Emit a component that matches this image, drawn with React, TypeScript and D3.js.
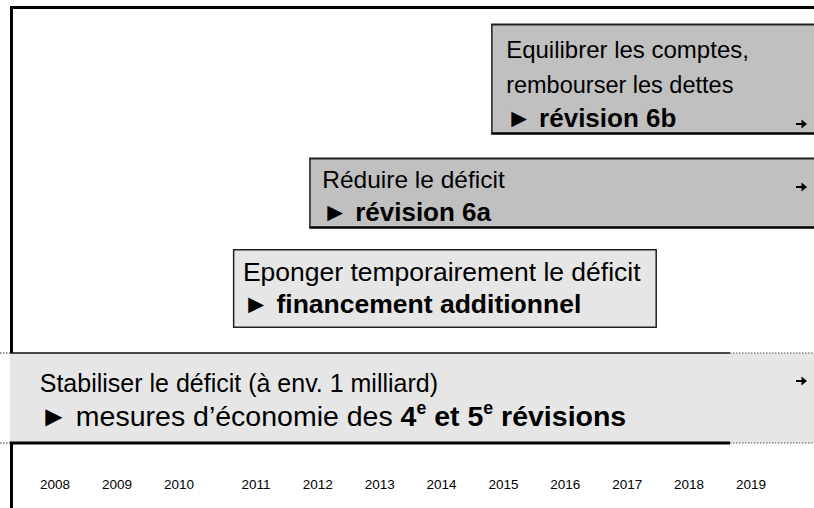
import React from "react";
import * as d3 from "d3";

// ---------- data ----------
const years = [2008, 2009, 2010, 2011, 2012, 2013, 2014, 2015, 2016, 2017, 2018, 2019];
const yearAnchors = [2008, 2010, 2011, 2019];

type Seg = { t: string; b?: boolean; sup?: boolean };

const phaseLines: Seg[][][] = [
  [
    [{ t: "Equilibrer les comptes," }],
    [{ t: "rembourser les dettes" }],
    [{ t: "► " }, { t: "révision 6b", b: true }],
  ],
  [
    [{ t: "Réduire le déficit" }],
    [{ t: "► " }, { t: "révision 6a", b: true }],
  ],
  [
    [{ t: "Eponger temporairement le déficit" }],
    [{ t: "► " }, { t: "financement additionnel", b: true }],
  ],
  [
    [{ t: "Stabiliser le déficit (à env. 1 milliard)" }],
    [
      { t: "► mesures d’économie des " },
      { t: "4", b: true },
      { t: "e", b: true, sup: true },
      { t: " et 5", b: true },
      { t: "e", b: true, sup: true },
      { t: " révisions", b: true },
    ],
  ],
];
const phaseStart = [2014.8, 2011.86, 2010.7, 2007.27];
const phaseEnd = [2021, 2021, 2017.48, 2021];
const phaseSolidEnd = [2021, 2021, 2017.48, 2018.66];
const phaseOngoing = [true, true, false, true];

// ---------- layout ----------
const W = 814;
const H = 508;
const yearAnchorX = [55, 179, 256, 751];
const rowTop = [24, 158, 249, 353];
const rowBottom = [134, 228, 328, 443];
const lineBaselines = [
  [58, 93, 127],
  [188, 221],
  [281, 313],
  [392, 426],
];
const lineFont = [
  [24, 23.5, 26],
  [24.5, 26],
  [26.5, 26.5],
  [25, 28.5],
];
const arrowY = [124, 187, 0, 381];
const textInset = [15, 13, 10, 30];
const fills = ["#c0c0c0", "#c0c0c0", "#e6e6e6", "#e6e6e6"];
const FONT = "'Liberation Sans', Arial, Helvetica, sans-serif";

export default function App() {
  const x = d3.scaleLinear().domain(yearAnchors).range(yearAnchorX);
  const arrowPath = "M-5,-1.1 H0.5 V-4.6 L6,0 L0.5,4.6 V1.1 H-5 Z";

  return (
    <svg
      width={W}
      height={H}
      style={{ position: "absolute", left: 0, top: 0, background: "#fff" }}
      fontFamily={FONT}
    >
      {/* frame */}
      <path d={`M11.5,${H + 5} V7.5 H${W + 5}`} fill="none" stroke="#000" strokeWidth={3} />

      {phaseLines.map((lines, i) => {
        const x0 = x(phaseStart[i]);
        const x1 = Math.min(x(phaseEnd[i]), W + 10);
        const xs = Math.min(x(phaseSolidEnd[i]), W + 10);
        const y0 = rowTop[i];
        const y1 = rowBottom[i];
        const isBand = i === 3;
        return (
          <g key={i}>
            <rect x={x0} y={y0} width={x1 - x0} height={y1 - y0} fill={fills[i]} />
            {isBand ? (
              <g>
                <line x1={0} x2={x0} y1={y0} y2={y0} stroke="#777" strokeWidth={1.5} strokeDasharray="1.5,1.5" />
                <line x1={x0} x2={xs} y1={y0} y2={y0} stroke="#111" strokeWidth={1.6} />
                <line x1={xs} x2={W} y1={y0} y2={y0} stroke="#888" strokeWidth={1.5} strokeDasharray="1.5,1.5" />
                <line x1={0} x2={x0} y1={y1} y2={y1} stroke="#777" strokeWidth={1.5} strokeDasharray="1.5,1.5" />
                <line x1={x0} x2={xs} y1={y1} y2={y1} stroke="#000" strokeWidth={3} />
                <line x1={xs} x2={W} y1={y1} y2={y1} stroke="#888" strokeWidth={1.5} strokeDasharray="1.5,1.5" />
              </g>
            ) : phaseOngoing[i] ? (
              <g>
                <line x1={x0} x2={x1} y1={y0 + 0.5} y2={y0 + 0.5} stroke="#222" strokeWidth={2} />
                <line x1={x0} x2={x1} y1={y1 - 0.5} y2={y1 - 0.5} stroke="#000" strokeWidth={2.5} />
                <line x1={x0 + 0.75} x2={x0 + 0.75} y1={y0} y2={y1} stroke="#222" strokeWidth={1.5} />
              </g>
            ) : (
              <rect x={x0 + 0.75} y={y0 + 0.75} width={x1 - x0 - 1.5} height={y1 - y0 - 1.5} fill="none" stroke="#222" strokeWidth={1.5} />
            )}
            {lines.map((segs, li) => {
              const fs = lineFont[i][li];
              return (
                <text key={li} x={x0 + textInset[i]} y={lineBaselines[i][li]} fontSize={fs} fill="#000">
                  {segs.map((s, si) => (
                    <tspan
                      key={si}
                      fontWeight={s.b ? "bold" : "normal"}
                      fontSize={s.sup ? fs * 0.62 : fs}
                      baselineShift={s.sup ? String(Math.round(fs * 0.42)) : undefined}
                    >
                      {s.t}
                    </tspan>
                  ))}
                </text>
              );
            })}
            {phaseOngoing[i] && (
              <path d={arrowPath} transform={`translate(801,${arrowY[i]})`} fill="#000" />
            )}
          </g>
        );
      })}

      {/* year labels */}
      {years.map((yr) => (
        <text key={yr} x={x(yr)} y={489} fontSize={13.5} textAnchor="middle" fill="#000">
          {yr}
        </text>
      ))}
    </svg>
  );
}
